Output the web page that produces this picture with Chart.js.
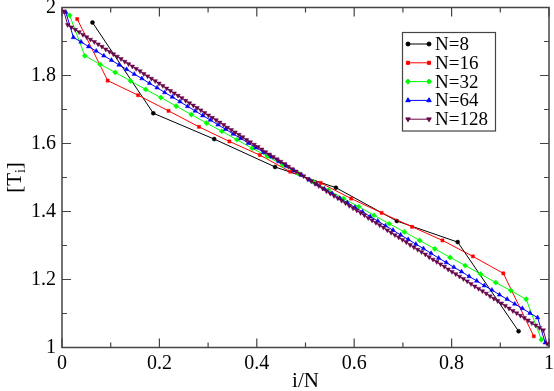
<!DOCTYPE html>
<html><head><meta charset="utf-8">
<script src="https://cdn.jsdelivr.net/npm/chart.js@4/dist/chart.umd.min.js"></script>
<style>html,body{margin:0;padding:0;background:#fff}#wrap{width:554px;height:391px}</style>
</head><body><div id="wrap"><canvas id="c" width="554" height="391"></canvas></div>
<script>
// ---- data ----
const seriesLabels = ['N=8', 'N=16', 'N=32', 'N=64', 'N=128'];
const seriesN = [8, 16, 32, 64, 128];
const T8 = [1.956, 1.689, 1.613, 1.531, 1.470, 1.372, 1.310, 1.048];
const T16 = [1.966, 1.785, 1.742, 1.696, 1.649, 1.606, 1.566, 1.517,
             1.484, 1.438, 1.396, 1.355, 1.315, 1.268, 1.218, 1.033];
const T32 = [1.977, 1.858, 1.833, 1.809, 1.784, 1.759, 1.735, 1.710, 1.685, 1.660, 1.636, 1.611, 1.586, 1.562, 1.537, 1.512,
             1.488, 1.463, 1.438, 1.414, 1.389, 1.364, 1.340, 1.315, 1.290, 1.265, 1.241, 1.216, 1.191, 1.167, 1.142, 1.023];
const T64 = [1.986, 1.912, 1.899, 1.885, 1.872, 1.858, 1.845, 1.831, 1.818, 1.804,
             1.791, 1.777, 1.764, 1.750, 1.737, 1.723, 1.709, 1.696, 1.682, 1.669,
             1.655, 1.642, 1.628, 1.615, 1.601, 1.588, 1.574, 1.561, 1.547, 1.534,
             1.520, 1.507,
             1.493, 1.480, 1.466, 1.453, 1.439, 1.426, 1.412, 1.399, 1.385, 1.372,
             1.358, 1.345, 1.331, 1.318, 1.304, 1.291, 1.277, 1.263, 1.250, 1.236,
             1.223, 1.209, 1.196, 1.182, 1.169, 1.155, 1.142, 1.128, 1.115, 1.101,
             1.088, 1.014];
const T128 = [1.989, 1.949, 1.942, 1.935, 1.928, 1.920, 1.913, 1.906, 1.899, 1.892,
              1.885, 1.877, 1.870, 1.863, 1.856, 1.849, 1.841, 1.834, 1.827, 1.820,
              1.813, 1.805, 1.798, 1.791, 1.784, 1.777, 1.770, 1.762, 1.755, 1.748,
              1.741, 1.734, 1.726, 1.719, 1.712, 1.705, 1.698, 1.690, 1.683, 1.676,
              1.669, 1.662, 1.655, 1.647, 1.640, 1.633, 1.626, 1.619, 1.611, 1.604,
              1.597, 1.590, 1.583, 1.575, 1.568, 1.561, 1.554, 1.547, 1.540, 1.532,
              1.525, 1.518, 1.511, 1.504,
              1.496, 1.489, 1.482, 1.475, 1.468, 1.460, 1.453, 1.446, 1.439, 1.432,
              1.425, 1.417, 1.410, 1.403, 1.396, 1.389, 1.381, 1.374, 1.367, 1.360,
              1.353, 1.345, 1.338, 1.331, 1.324, 1.317, 1.310, 1.302, 1.295, 1.288,
              1.281, 1.274, 1.266, 1.259, 1.252, 1.245, 1.238, 1.230, 1.223, 1.216,
              1.209, 1.202, 1.195, 1.187, 1.180, 1.173, 1.166, 1.159, 1.151, 1.144,
              1.137, 1.130, 1.123, 1.115, 1.108, 1.101, 1.094, 1.087, 1.080, 1.072,
              1.065, 1.058, 1.051, 1.011];
const seriesValues = [T8, T16, T32, T64, T128];
const xTickLabels = ['0', '0.2', '0.4', '0.6', '0.8', '1'];
const yTickLabels = ['1', '1.2', '1.4', '1.6', '1.8', '2'];
const xAxisTitle = 'i/N';
const yAxisTitleMain = '[T';
const yAxisTitleSub = 'i';
const yAxisTitleEnd = ']';

// ---- styles ----
const colors = ['#000000', '#ff0000', '#00ff00', '#0000ff', 'rgb(103,7,72)'];
const pstyles = ['circle', 'rect', 'rectRot', 'triangle', 'triangle'];
const prot = [0, 0, 0, 0, 180];
const prad = [2, 2.2, 2.6, 2.6, 2.6];
const FONT = "'Liberation Serif', 'DejaVu Serif', serif";

const datasets = seriesValues.map((vals, s) => ({
  label: seriesLabels[s],
  data: vals.map((v, i) => ({ x: (i + 0.5) / seriesN[s], y: v })),
  showLine: true,
  borderColor: colors[s],
  backgroundColor: colors[s],
  borderWidth: 1,
  pointStyle: pstyles[s],
  pointRotation: prot[s],
  pointRadius: prad[s],
  pointBorderWidth: 0.5,
  pointHoverRadius: prad[s],
  order: 5 - s,
  clip: false
}));

const framePlugin = {
  id: 'frame',
  beforeDatasetsDraw(chart) {
    const { ctx, chartArea: a, scales } = chart;
    ctx.save();
    ctx.strokeStyle = '#444';
    ctx.lineWidth = 1.5;
    ctx.strokeRect(a.left, a.top, a.right - a.left, a.bottom - a.top);
    ctx.lineWidth = 1.2;
    ctx.beginPath();
    for (let k = 0; k <= 10; k++) {
      const len = k % 2 === 0 ? 9 : 5;
      const px = scales.x.getPixelForValue(k / 10);
      ctx.moveTo(px, a.bottom); ctx.lineTo(px, a.bottom - len);
      ctx.moveTo(px, a.top); ctx.lineTo(px, a.top + len);
      const py = scales.y.getPixelForValue(1 + k / 10);
      ctx.moveTo(a.left, py); ctx.lineTo(a.left + len, py);
      ctx.moveTo(a.right, py); ctx.lineTo(a.right - len, py);
    }
    ctx.stroke();
    ctx.restore();
  },
  afterDraw(chart) {
    const { ctx, chartArea: a } = chart;
    ctx.save();
    // y axis title with subscript
    ctx.fillStyle = '#000';
    ctx.translate(14, (a.top + a.bottom) / 2);
    ctx.rotate(-Math.PI / 2);
    ctx.textBaseline = 'alphabetic';
    const f1 = '21px ' + FONT, f2 = '14px ' + FONT;
    ctx.font = f1; const w1 = ctx.measureText(yAxisTitleMain).width;
    const w3 = ctx.measureText(yAxisTitleEnd).width;
    ctx.font = f2; const w2 = ctx.measureText(yAxisTitleSub).width;
    let x0 = -(w1 + w2 + w3) / 2;
    ctx.font = f1; ctx.fillText(yAxisTitleMain, x0, 7);
    ctx.font = f2; ctx.fillText(yAxisTitleSub, x0 + w1, 11);
    ctx.font = f1; ctx.fillText(yAxisTitleEnd, x0 + w1 + w2, 7);
    ctx.restore();

    // legend
    ctx.save();
    const bx = 402.5, by = 32.5, bw = 93, bh = 98.5;
    ctx.fillStyle = '#fff';
    ctx.fillRect(bx, by, bw, bh);
    ctx.strokeStyle = '#444';
    ctx.lineWidth = 1.2;
    ctx.strokeRect(bx, by, bw, bh);
    ctx.font = '19px ' + FONT;
    ctx.textBaseline = 'middle';
    chart.data.datasets.forEach((ds, i) => {
      const y = 44 + i * 18.8;
      ctx.strokeStyle = ds.borderColor;
      ctx.fillStyle = ds.backgroundColor;
      ctx.lineWidth = 1;
      ctx.beginPath(); ctx.moveTo(408, y); ctx.lineTo(429, y); ctx.stroke();
      [408, 429].forEach(px => {
        Chart.helpers.drawPoint(ctx, { pointStyle: ds.pointStyle, radius: ds.pointRadius, rotation: ds.pointRotation, borderWidth: 0.5 }, px, y);
      });
      ctx.fillStyle = '#000';
      ctx.fillText(ds.label, 435, y + 1);
    });
    ctx.restore();
  }
};

Chart.defaults.color = '#000';
new Chart(document.getElementById('c'), {
  type: 'scatter',
  data: { datasets },
  options: {
    responsive: false,
    animation: false,
    devicePixelRatio: 1,
    layout: { padding: { top: 7.5, right: 5, left: 0, bottom: 0 } },
    plugins: { legend: { display: false }, tooltip: { enabled: false } },
    scales: {
      x: {
        type: 'linear', min: 0, max: 1,
        grid: { display: false, drawTicks: false },
        border: { display: false },
        ticks: { stepSize: 0.2, padding: 4, font: { family: FONT, size: 20 }, color: '#000', maxRotation: 0,
                 callback: (v, i) => xTickLabels[i] },
        title: { display: true, text: xAxisTitle, font: { family: FONT, size: 21, lineHeight: 1 }, color: '#000', padding: { top: 4, bottom: -1 } },
        afterFit(s) { s.height = 43.5; s.paddingLeft = 0; s.paddingRight = 0; }
      },
      y: {
        type: 'linear', min: 1, max: 2,
        grid: { display: false, drawTicks: false },
        border: { display: false },
        ticks: { stepSize: 0.2, padding: 6, font: { family: FONT, size: 20 }, color: '#000',
                 callback: (v, i) => yTickLabels[i] },
        afterFit(s) { s.width = 62; s.paddingTop = 0; s.paddingBottom = 0; }
      }
    }
  },
  plugins: [framePlugin]
});
</script>
</body></html>
